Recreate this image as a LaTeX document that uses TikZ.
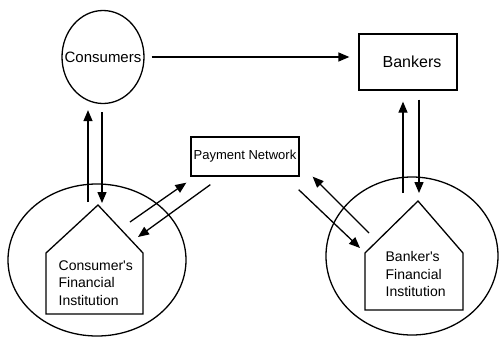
\documentclass[tikz,border=0pt]{standalone}
\usepackage{fontspec}
\setmainfont{Liberation Sans}
\usetikzlibrary{arrows.meta,shapes.geometric,positioning,calc}

\begin{document}
\begin{tikzpicture}[x=1pt,y=-1pt,line width=1.3pt,
  flow/.style={-{Triangle[length=11pt,width=9pt]}},
  box/.style={draw,rectangle,inner sep=0pt},
  ring/.style={draw,ellipse,inner sep=0pt}]
\useasboundingbox (0,0) rectangle (499,338);
% outer rings
\node[ring,minimum width=178pt,minimum height=152pt] (cring) at (97,260) {};
\node[ring,minimum width=172pt,minimum height=158pt] (bring) at (412,256) {};
% top row
\node[ring,minimum width=82pt,minimum height=93pt,
  label={[font=\fontsize{15}{18}\selectfont]center:Consumers}] (cons) at (103,57) {};
\node[box,minimum width=98pt,minimum height=56pt,
  label={[font=\fontsize{16}{19}\selectfont,xshift=4pt]center:Bankers}] (bank) at (408,62) {};
\node[box,minimum width=108pt,minimum height=39pt,font=\fontsize{13}{15}\selectfont] (pn) at (245,156.5) {Payment Network};
% houses
\coordinate (capex) at (98,205);
\coordinate (cshoulder) at (143,253);
\draw (46,314) -- (46,253) -- (capex) -- (cshoulder) -- (143,314) -- cycle;
\node[anchor=west,align=left,inner sep=0pt,font=\fontsize{14}{17.5}\selectfont] (cfi) at (58,283) {Consumer\textquotesingle s\\Financial\\Institution};
\coordinate (bapex) at (418,201);
\coordinate (bshoulder) at (365,253);
\draw (463,310) -- (463,253) -- (bapex) -- (bshoulder) -- (365,310) -- cycle;
\node[anchor=west,align=left,inner sep=0pt,font=\fontsize{14}{17.5}\selectfont] (bfi) at (385,274) {Banker\textquotesingle s\\Financial\\Institution};
% flows
\draw[flow,shorten <=7pt,shorten >=9pt] (cons.east) -- (cons.east -| bank.west);
\draw[flow] ([shift={(-10pt,3pt)}]capex) -- ([shift={(-15pt,-6pt)}]cons.south);
\draw[flow] ([shift={(-1pt,-8pt)}]cons.south) -- ([shift={(4pt,2pt)}]capex);
\draw[flow] ([shift={(-15pt,8pt)}]bapex) -- ([shift={(-5pt,-11pt)}]bank.south);
\draw[flow] ([shift={(11pt,-9pt)}]bank.south) -- ([shift={(1pt,8pt)}]bapex);
\draw[flow] ([shift={(-13pt,31pt)}]cshoulder) -- ([shift={(-4pt,-6pt)}]pn.south west);
\draw[flow] ([shift={(20pt,-8pt)}]pn.south west) -- ([shift={(-5pt,16pt)}]cshoulder);
\draw[flow] ([shift={(-1pt,-13pt)}]pn.south east) -- ([shift={(-5pt,5pt)}]bshoulder);
\draw[flow] ([shift={(4pt,20pt)}]bshoulder) -- ([shift={(13pt,0pt)}]pn.south east);
\end{tikzpicture}
\end{document}
